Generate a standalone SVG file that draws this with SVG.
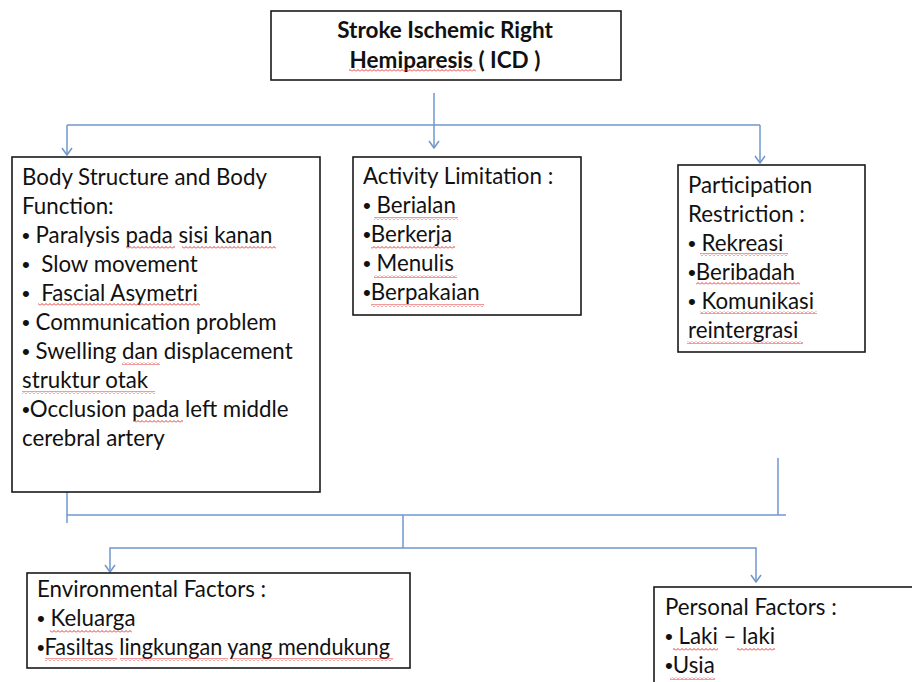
<svg xmlns="http://www.w3.org/2000/svg" width="912" height="682" viewBox="0 0 912 682">
<style>
.box{fill:#fff;stroke:#1a1a1a;stroke-width:1.6}
.t{font-family:Lato,"Liberation Sans",sans-serif;font-size:22.3px;fill:#111;white-space:pre}
.b{font-family:"Liberation Sans",sans-serif}
.title{font-family:Lato,"Liberation Sans",sans-serif;font-size:22.5px;font-weight:bold;fill:#111;text-anchor:middle}
.c{fill:none;stroke:#7097cc;stroke-width:1.5}
.sq{fill:url(#wave)}
</style>
<defs>
<marker id="ad" viewBox="0 0 12 12" refX="6" refY="11" markerWidth="12" markerHeight="12" markerUnits="userSpaceOnUse" orient="0">
<path d="M1,4 L6,11 L11,4" fill="none" stroke="#7097cc" stroke-width="1.5"/>
</marker>
<pattern id="wave" width="4" height="3" patternUnits="userSpaceOnUse">
<path d="M0,2.5 L2,0.5 L4,2.5" fill="none" stroke="#e02020" stroke-width="0.9"/>
</pattern>
</defs>

<g id="connectors">
<line class="c" x1="434" y1="93" x2="434" y2="148" marker-end="url(#ad)"/>
<line class="c" x1="67" y1="125" x2="760" y2="125"/>
<line class="c" x1="67" y1="125" x2="67" y2="155" marker-end="url(#ad)"/>
<line class="c" x1="760" y1="125" x2="760" y2="163" marker-end="url(#ad)"/>
<line class="c" x1="67" y1="490" x2="67" y2="523"/>
<line class="c" x1="67" y1="515" x2="786" y2="515"/>
<line class="c" x1="778" y1="458" x2="778" y2="515"/>
<line class="c" x1="403" y1="515" x2="403" y2="548"/>
<polyline class="c" points="110,572 110,548 756,548 756,582" marker-start="url(#ad)" marker-end="url(#ad)"/>
</g>

<g id="icd">
<rect class="box" x="271" y="11" width="350" height="69"/>
<text class="title" x="445" y="38">Stroke Ischemic Right</text>
<text class="title" x="445" y="68">Hemiparesis ( ICD )</text>
<rect class="sq" x="349" y="69" width="127" height="3"/>
</g>

<g id="body">
<rect class="box" x="12" y="157" width="308" height="335"/>
<text class="t" x="22" y="185">Body Structure and Body</text>
<text class="t" x="22" y="214">Function:</text>
<text class="t" x="22" y="243"><tspan class="b">•</tspan> Paralysis pada sisi kanan</text>
<text class="t" x="22" y="272"><tspan class="b">•</tspan>  Slow movement</text>
<text class="t" x="22" y="301"><tspan class="b">•</tspan>  Fascial Asymetri</text>
<text class="t" x="22" y="330"><tspan class="b">•</tspan> Communication problem</text>
<text class="t" x="22" y="359"><tspan class="b">•</tspan> Swelling dan displacement</text>
<text class="t" x="22" y="388">struktur otak</text>
<text class="t" x="22" y="417"><tspan class="b">•</tspan>Occlusion pada left middle</text>
<text class="t" x="22" y="446">cerebral artery</text>
<rect class="sq" x="126" y="246" width="49" height="3"/>
<rect class="sq" x="182" y="246" width="94" height="3"/>
<rect class="sq" x="38" y="303" width="162" height="3"/>
<rect class="sq" x="122" y="362" width="38" height="3"/>
<rect class="sq" x="22" y="391" width="133" height="3"/>
<rect class="sq" x="133" y="420" width="50" height="3"/>
</g>

<g id="activity">
<rect class="box" x="353" y="157" width="228" height="158"/>
<text class="t" x="363" y="184">Activity Limitation :</text>
<text class="t" x="363" y="213"><tspan class="b">•</tspan> Berialan</text>
<text class="t" x="363" y="242"><tspan class="b">•</tspan>Berkerja</text>
<text class="t" x="363" y="271"><tspan class="b">•</tspan> Menulis</text>
<text class="t" x="363" y="300"><tspan class="b">•</tspan>Berpakaian</text>
<rect class="sq" x="374" y="217" width="84" height="3"/>
<rect class="sq" x="371" y="246" width="84" height="3"/>
<rect class="sq" x="374" y="275" width="83" height="3"/>
<rect class="sq" x="371" y="304" width="113" height="3"/>
</g>

<g id="participation">
<rect class="box" x="678" y="165" width="187" height="187"/>
<text class="t" x="688" y="193">Participation</text>
<text class="t" x="688" y="222">Restriction :</text>
<text class="t" x="688" y="251"><tspan class="b">•</tspan> Rekreasi</text>
<text class="t" x="688" y="280"><tspan class="b">•</tspan>Beribadah</text>
<text class="t" x="688" y="309"><tspan class="b">•</tspan> Komunikasi</text>
<text class="t" x="688" y="338">reintergrasi</text>
<rect class="sq" x="700" y="253" width="88" height="3"/>
<rect class="sq" x="696" y="282" width="104" height="3"/>
<rect class="sq" x="700" y="311" width="117" height="3"/>
<rect class="sq" x="687" y="341" width="116" height="3"/>
</g>

<g id="environmental">
<rect class="box" x="27" y="573" width="383" height="95"/>
<text class="t" x="37" y="597">Environmental Factors :</text>
<text class="t" x="37" y="626"><tspan class="b">•</tspan> Keluarga</text>
<text class="t" x="37" y="655" textLength="353" lengthAdjust="spacingAndGlyphs"><tspan class="b">•</tspan>Fasiltas lingkungan yang mendukung</text>
<rect class="sq" x="45" y="658" width="72" height="3"/>
<rect class="sq" x="50" y="630" width="82" height="3"/>
<rect class="sq" x="120" y="658" width="108" height="3"/>
<rect class="sq" x="232" y="658" width="161" height="3"/>
</g>

<g id="personal">
<rect class="box" x="654" y="587" width="270" height="110"/>
<text class="t" x="665" y="615">Personal Factors :</text>
<text class="t" x="665" y="644"><tspan class="b">•</tspan> Laki – laki</text>
<text class="t" x="665" y="673"><tspan class="b">•</tspan>Usia</text>
<rect class="sq" x="673" y="648" width="45" height="3"/>
<rect class="sq" x="737" y="648" width="38" height="3"/>
<rect class="sq" x="670" y="677" width="45" height="3"/>
</g>
</svg>
